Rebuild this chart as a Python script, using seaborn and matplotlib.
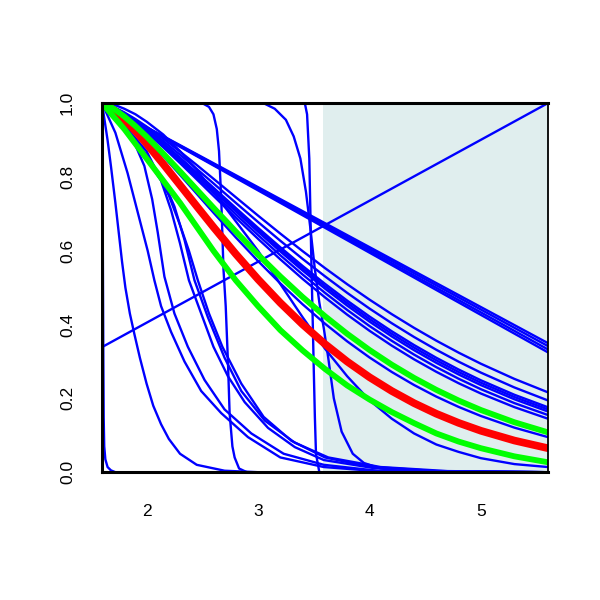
import matplotlib
matplotlib.use("Agg")
import matplotlib.pyplot as plt
import seaborn as sns

# shared x grid for the smooth decay curves
grid_x = [1.6, 1.7, 1.8, 1.9, 2.0, 2.15, 2.3, 2.45, 2.6, 2.8, 3.0, 3.2, 3.4, 3.6,
          3.8, 4.0, 4.2, 4.4, 4.6, 4.8, 5.0, 5.3, 5.6]

# blue bundle ending between 0.14 and 0.22
bundle_a = [1, .9903, .9751, .9570, .9368, .9040, .8689, .8325, .7953, .7453, .6954, .6466,
            .5991, .5533, .5094, .4677, .4283, .3912, .3564, .3240, .2939, .2529, .2166]
bundle_b = [1, .9896, .9733, .9540, .9325, .8976, .8605, .8219, .7827, .7301, .6781, .6272,
            .5780, .5310, .4860, .4435, .4037, .3664, .3317, .2995, .2698, .2297, .1946]
bundle_c = [1, .9890, .9717, .9513, .9286, .8917, .8526, .8121, .7711, .7162, .6622, .6096,
            .5590, .5107, .4650, .4220, .3819, .3446, .3100, .2782, .2490, .2099, .1761]
bundle_d = [1, .9888, .9712, .9504, .9273, .8898, .8500, .8089, .7673, .7117, .6570, .6039,
            .5528, .5042, .4583, .4151, .3750, .3377, .3032, .2715, .2425, .2038, .1704]
bundle_e = [1, .9885, .9707, .9495, .9259, .8878, .8474, .8057, .7634, .7071, .6517, .5981,
            .5466, .4977, .4515, .4082, .3680, .3307, .2963, .2648, .2360, .1977, .1647]
bundle_f = [1, .9882, .9697, .9478, .9236, .8843, .8427, .7999, .7566, .6989, .6425, .5879,
            .5357, .4862, .4397, .3962, .3560, .3187, .2846, .2533, .2249, .1873, .1551]
bundle_g = [1, .9877, .9686, .9460, .9209, .8804, .8376, .7935, .7490, .6900, .6324, .5768,
            .5238, .4739, .4269, .3833, .3430, .3059, .2720, .2411, .2132, .1764, .1451]
blue_low = [1, .9851, .9619, .9346, .9045, .8562, .8058, .7545, .7033, .6364, .5723, .5116,
            .4550, .4026, .3546, .3110, .2716, .2363, .2048, .1769, .1523, .1208, .0952]
blue_deep = [1, .997, .985, .97, .95, .915, .87, .82, .76, .68, .60, .51,
             .42, .335, .26, .195, .145, .105, .075, .055, .038, .022, .014]

green_high = [1, .9859, .9639, .9380, .9095, .8634, .8152, .7660, .7168, .6522, .5897, .5305,
              .4747, .4229, .3750, .3312, .2914, .2555, .2231, .1942, .1685, .1354, .1081]
green_low = [1, .965, .93, .89, .85, .79, .73, .665, .60, .52, .45, .385,
             .33, .28, .235, .197, .163, .133, .105, .083, .065, .043, .027]
red_mid = [1, .9827, .9559, .9244, .8900, .8350, .7781, .7208, .6643, .5915, .5228, .4590,
           .4005, .3475, .2998, .2574, .2200, .1871, .1584, .1336, .1122, .0858, .0651]

# straight lines
line_x = [1.6, 5.6]
falling_1 = [1, .35]
falling_2 = [1, .342]
falling_3 = [1, .333]
falling_4 = [1, .325]
rising = [.339, 1.0]

# steep drops
drop0_x = [1.6, 1.603, 1.606, 1.609, 1.612, 1.615, 1.62, 1.63, 1.65, 1.68, 1.72, 5.6]
drop0_y = [1, .9, .7, .5, .3, .15, .07, .035, .014, .005, 0, 0]

dropA_x = [1.6, 1.62, 1.65, 1.68, 1.72, 1.75, 1.78, 1.81, 1.85, 1.89, 1.94, 2.0, 2.06,
           2.13, 2.2, 2.3, 2.45, 2.7, 3.0, 5.6]
dropA_y = [1, .96, .9, .83, .73, .65, .57, .5, .43, .375, .31, .24, .18,
           .13, .09, .05, .02, .004, 0, 0]

dropB_x = [1.6, 1.66, 1.72, 1.77, 1.83, 1.89, 1.95, 2.01, 2.07, 2.13, 2.22, 2.34, 2.49,
           2.67, 2.91, 3.2, 3.59, 4.1, 5.6]
dropB_y = [1, .96, .92, .87, .81, .74, .67, .6, .52, .45, .38, .30, .22,
           .16, .095, .04, .014, .002, 0]

dropB2_x = [1.6, 1.7, 1.8, 1.88, 1.98, 2.05, 2.1, 2.16, 2.25, 2.37, 2.52, 2.7, 2.94,
            3.23, 3.59, 4.1, 5.6]
dropB2_y = [1, .98, .95, .9, .83, .74, .65, .53, .43, .34, .25, .17, .105,
            .05, .02, .003, 0]

dropC1_x = [1.6, 1.8, 2.0, 2.13, 2.22, 2.3, 2.38, 2.49, 2.6, 2.73, 2.88, 3.09, 3.33,
            3.59, 4.04, 4.6, 5.6]
dropC1_y = [1, .93, .85, .79, .71, .62, .52, .43, .34, .26, .19, .12, .068,
            .033, .011, .002, 0]

dropC2_x = [1.6, 1.8, 2.0, 2.15, 2.25, 2.34, 2.43, 2.55, 2.7, 2.85, 3.06, 3.33, 3.63,
            4.1, 4.7, 5.6]
dropC2_y = [1, .935, .86, .79, .72, .63, .52, .42, .31, .22, .14, .08, .04,
            .014, .003, 0]

dropC3_x = [1.6, 1.8, 2.0, 2.2, 2.3, 2.38, 2.46, 2.56, 2.68, 2.85, 3.05, 3.3, 3.6,
            4.0, 4.6, 5.6]
dropC3_y = [1, .94, .87, .75, .67, .6, .52, .43, .34, .24, .15, .085, .04,
            .015, .003, 0]

step1_x = [1.6, 2.5, 2.56, 2.6, 2.63, 2.65, 2.67, 2.69, 2.71, 2.73, 2.745, 2.77, 2.79,
           2.83, 2.9, 5.6]
step1_y = [1, 1, .99, .97, .93, .87, .74, .55, .45, .3, .16, .07, .04,
           .01, 0, 0]

step2_x = [1.6, 3.42, 3.44, 3.46, 3.47, 3.48, 3.49, 3.5, 3.51, 3.52, 3.55, 5.6]
step2_y = [1, 1, .97, .85, .7, .55, .42, .28, .15, .05, 0, 0]

step3_x = [1.6, 3.05, 3.15, 3.25, 3.32, 3.38, 3.43, 3.47, 3.51, 3.55, 3.59, 3.63, 3.68,
           3.75, 3.85, 3.95, 4.1, 4.4, 5.6]
step3_y = [1, 1, .985, .955, .91, .85, .76, .66, .55, .46, .39, .31, .2,
           .11, .05, .025, .01, .002, 0]

shade_from, shade_to = 3.58, 5.6
x_ticks = [2, 3, 4, 5]
y_ticks = [0.0, 0.2, 0.4, 0.6, 0.8, 1.0]

sns.set_style("white")
plt.rcParams['font.family'] = ['Liberation Sans', 'DejaVu Sans']

fig = plt.figure(figsize=(6, 6), dpi=100)
ax = fig.add_axes([0.17, 0.213, 0.743, 0.615])
ax.axvspan(shade_from, shade_to, color='#E0EEEE', lw=0, zorder=0)

blue_curves = [
    (line_x, falling_1), (line_x, falling_2), (line_x, falling_3), (line_x, falling_4),
    (line_x, rising),
    (grid_x, bundle_a), (grid_x, bundle_b), (grid_x, bundle_c), (grid_x, bundle_d),
    (grid_x, bundle_e), (grid_x, bundle_f), (grid_x, bundle_g),
    (grid_x, blue_low), (grid_x, blue_deep),
    (drop0_x, drop0_y), (dropA_x, dropA_y), (dropB_x, dropB_y), (dropB2_x, dropB2_y),
    (dropC1_x, dropC1_y), (dropC2_x, dropC2_y), (dropC3_x, dropC3_y),
    (step1_x, step1_y), (step2_x, step2_y), (step3_x, step3_y),
]
for cx, cy in blue_curves:
    sns.lineplot(x=cx, y=cy, color='blue', linewidth=1.7, ax=ax,
                 estimator=None, sort=False, legend=False)

sns.lineplot(x=grid_x, y=red_mid, color='#FF0000', linewidth=5.5, ax=ax,
             estimator=None, sort=False, legend=False)
for gy in (green_high, green_low):
    sns.lineplot(x=grid_x, y=gy, color='#00FF00', linewidth=4.2, ax=ax,
                 estimator=None, sort=False, legend=False)

ax.set_xlim(1.6, 5.6)
ax.set_ylim(0, 1)
ax.set_xticks(x_ticks)
ax.set_xticklabels([str(t) for t in x_ticks])
ax.set_yticks(y_ticks)
ax.set_yticklabels([f"{t:.1f}" for t in y_ticks])
ax.tick_params(axis='both', direction='out', length=8.5, width=2, colors='black',
               labelsize=12.5)
ax.tick_params(axis='x', pad=14.5)
ax.tick_params(axis='y', pad=11)
for lab in ax.get_yticklabels():
    lab.set_rotation(90)
    lab.set_va('center')
for side in ['left', 'bottom', 'top']:
    ax.spines[side].set_linewidth(2.2)
ax.spines['right'].set_linewidth(1.3)
for sp in ax.spines.values():
    sp.set_color('black')
ax.set_xlabel('')
ax.set_ylabel('')

fig.savefig('out.png', dpi=100)
